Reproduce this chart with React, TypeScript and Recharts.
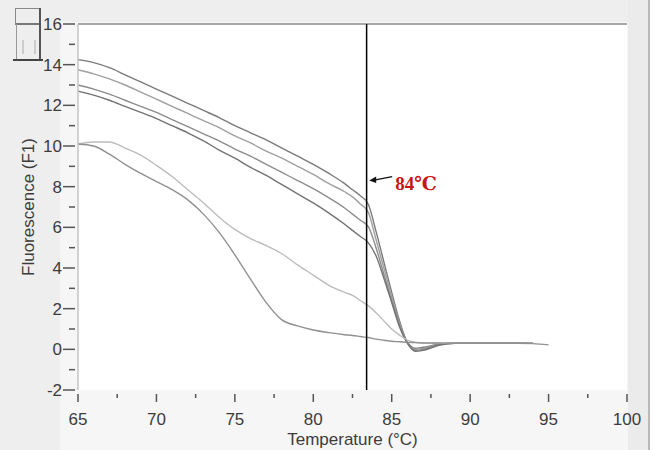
import { LineChart, Line, XAxis, YAxis, CartesianGrid, ReferenceLine, ReferenceDot, Label } from 'recharts';

const temps = [65, 66, 67, 68, 69, 70, 71, 72, 73, 74, 75, 76, 77, 78, 79, 80, 81, 82, 82.5, 83, 83.5, 84, 84.5, 85, 85.5, 86, 86.5, 87, 88, 89, 90, 91, 92, 93, 94, 95];

const curveA = [14.25, 14.1, 13.85, 13.5, 13.15, 12.8, 12.45, 12.1, 11.75, 11.4, 11.0, 10.65, 10.3, 9.9, 9.5, 9.1, 8.65, 8.15, 7.85, 7.55, 7.15, 5.8, 4.3, 2.8, 1.4, 0.35, 0.05, 0.1, 0.25, 0.3, 0.3, 0.3, 0.3, 0.3, 0.3, null];
const curveB = [13.75, 13.55, 13.3, 13.0, 12.65, 12.3, 11.95, 11.6, 11.25, 10.9, 10.5, 10.15, 9.75, 9.4, 9.0, 8.6, 8.15, 7.75, 7.5, 7.15, 6.75, 5.4, 4.0, 2.6, 1.3, 0.3, 0.0, 0.05, 0.25, 0.3, 0.3, 0.3, 0.3, 0.3, 0.3, null];
const curveC = [13.0, 12.8, 12.55, 12.25, 11.95, 11.65, 11.3, 10.95, 10.6, 10.25, 9.85, 9.5, 9.1, 8.7, 8.3, 7.9, 7.45, 6.95, 6.65, 6.35, 6.05, 5.0, 3.7, 2.4, 1.2, 0.3, -0.05, 0.0, 0.25, 0.3, 0.3, 0.3, 0.3, 0.3, 0.3, null];
const curveD = [12.7, 12.5, 12.25, 11.95, 11.65, 11.35, 11.0, 10.65, 10.25, 9.8, 9.4, 8.95, 8.55, 8.1, 7.65, 7.2, 6.7, 6.15, 5.85, 5.55, 5.25, 4.6, 3.5, 2.3, 1.1, 0.3, -0.1, -0.05, 0.2, 0.3, 0.3, 0.3, 0.3, 0.3, 0.3, null];
const curveE = [10.1, 10.2, 10.2, 9.9, 9.55, 9.05, 8.5, 7.85, 7.2, 6.5, 5.9, 5.45, 5.1, 4.7, 4.15, 3.65, 3.15, 2.8, 2.65, 2.4, 2.15, 1.8, 1.4, 1.0, 0.7, 0.45, 0.35, 0.3, 0.3, 0.3, 0.3, 0.3, 0.3, 0.3, 0.3, null];
const curveF = [10.1, 10.0, 9.6, 9.1, 8.65, 8.25, 7.85, 7.35, 6.65, 5.75, 4.65, 3.45, 2.3, 1.45, 1.15, 0.95, 0.82, 0.72, 0.68, 0.63, 0.58, 0.5, 0.45, 0.4, 0.37, 0.34, 0.33, 0.32, 0.31, 0.3, 0.3, 0.3, 0.3, 0.3, 0.28, 0.22];

const xTicks = [65, 67.5, 70, 72.5, 75, 77.5, 80, 82.5, 85, 87.5, 90, 92.5, 95, 97.5, 100];
const yTicks = [-2, -1, 0, 1, 2, 3, 4, 5, 6, 7, 8, 9, 10, 11, 12, 13, 14, 15, 16];

const meltTemp = 83.4;
const meltLabel = '84℃';

const series = [
  { key: 'a', values: curveA, color: '#7a7a7a' },
  { key: 'b', values: curveB, color: '#a0a0a0' },
  { key: 'c', values: curveC, color: '#8c8c8c' },
  { key: 'd', values: curveD, color: '#727272' },
  { key: 'e', values: curveE, color: '#bcbcbc' },
  { key: 'f', values: curveF, color: '#909090' },
];

const data = temps.map((t, i) => {
  const row: Record<string, number | null> = { t };
  series.forEach((s) => { row[s.key] = s.values[i]; });
  return row;
});

const font = '"Liberation Sans", Arial, sans-serif';
const textColor = '#3c3c3c';

const XTick = ({ x, y, payload }: any) => {
  const major = payload.value % 5 === 0;
  return (
    <g>
      <line x1={x} x2={x} y1={y + 4} y2={y + (major ? 12 : 8)} stroke="#555" strokeWidth={1.5} />
      {major && (
        <text x={x} y={y + 35} textAnchor="middle" fontSize={17} fontFamily={font} fill={textColor}>
          {payload.value}
        </text>
      )}
    </g>
  );
};

const YTick = ({ x, y, payload }: any) => {
  const major = payload.value % 2 === 0;
  return (
    <g>
      <line x1={x - (major ? 15 : 9)} x2={x - 3} y1={y} y2={y} stroke="#555" strokeWidth={1.5} />
      {major && (
        <text x={x - 16} y={y + 6} textAnchor="end" fontSize={17} fontFamily={font} fill={textColor}>
          {payload.value}
        </text>
      )}
    </g>
  );
};

const Arrow = ({ cx, cy }: any) => (
  <g>
    <line x1={cx + 24} y1={cy - 4} x2={cx + 6} y2={cy - 0.5} stroke="#111" strokeWidth={1.3} />
    <polygon points={`${cx + 1},${cy} ${cx + 8},${cy - 4} ${cx + 8},${cy + 2.5}`} fill="#111" />
    <text x={cx + 27} y={cy + 9} fontSize={19} fontWeight="bold" fontFamily='"Liberation Serif", "DejaVu Serif", serif' fill="#c81414">
      {meltLabel}
    </text>
  </g>
);

export default function App() {
  return (
    <div style={{ position: 'absolute', left: 0, top: 0, width: 655, height: 450, background: '#f6f6f6', overflow: 'hidden' }}>
      <div style={{ position: 'absolute', left: 0, top: 0, width: 655, height: 22, background: '#eeeeee' }} />
      <div style={{ position: 'absolute', left: 0, top: 0, width: 60, height: 450, background: '#eeeeee' }} />
      <div style={{ position: 'absolute', left: 628, top: 0, width: 20, height: 450, background: '#ebebeb', borderRight: '2px solid #b8b8b8' }} />
      <div style={{ position: 'absolute', left: 650, top: 0, width: 5, height: 450, background: '#ffffff' }} />
      <div style={{ position: 'absolute', left: 15, top: 8, width: 24, height: 14, border: '1px solid #888', borderBottom: '2px solid #777' }} />
      <div style={{ position: 'absolute', left: 16, top: 24, width: 0, height: 35, borderLeft: '1px solid #999' }} />
      <div style={{ position: 'absolute', left: 39, top: 8, width: 0, height: 52, borderLeft: '2px solid #555' }} />
      <div style={{ position: 'absolute', left: 22, top: 40, width: 10, height: 14, borderLeft: '2px solid #ccc', borderRight: '2px solid #ccc' }} />
      <div style={{ position: 'absolute', left: 13, top: 59, width: 30, height: 2, background: '#444' }} />
      <div style={{ position: 'absolute', left: 0, top: 0 }}>
        <LineChart width={655} height={450} data={data} margin={{ top: 24, right: 28, bottom: 0, left: 0 }}>
          <CartesianGrid fill="#ffffff" stroke="none" horizontal={false} vertical={false} />
          <XAxis
            dataKey="t"
            type="number"
            domain={[65, 100]}
            ticks={xTicks}
            interval={0}
            tickSize={0}
            tickMargin={0}
            tickLine={false}
            axisLine={false}
            height={60}
            tick={<XTick />}
          >
            <Label
              content={({ viewBox }: any) => (
                <text x={viewBox.x + viewBox.width / 2} y={viewBox.y + 55} textAnchor="middle" fontSize={17} fontFamily={font} fill={textColor}>
                  Temperature (°C)
                </text>
              )}
            />
          </XAxis>
          <YAxis
            type="number"
            domain={[-2, 16]}
            ticks={yTicks}
            interval={0}
            width={78}
            tickSize={0}
            tickMargin={0}
            tickLine={false}
            axisLine={{ stroke: '#c4c4c4', strokeWidth: 1.5 }}
            tick={<YTick />}
          >
            <Label
              content={({ viewBox }: any) => {
                const cx = viewBox.x + 28;
                const cy = viewBox.y + viewBox.height / 2;
                return (
                  <text x={cx} y={cy} transform={`rotate(-90, ${cx}, ${cy})`} textAnchor="middle" dominantBaseline="central" fontSize={17} fontFamily={font} fill={textColor}>
                    Fluorescence (F1)
                  </text>
                );
              }}
            />
          </YAxis>
          <ReferenceLine y={16} stroke="#a8a8a8" strokeWidth={2} />
          {series.map((s) => (
            <Line
              key={s.key}
              dataKey={s.key}
              stroke={s.color}
              strokeWidth={1.4}
              dot={false}
              type="monotone"
              connectNulls={false}
              isAnimationActive={false}
            />
          ))}
          <ReferenceLine x={meltTemp} stroke="#000" strokeWidth={1.5} />
          <ReferenceDot x={83.5} y={8.3} r={0} shape={<Arrow />} />
        </LineChart>
      </div>
    </div>
  );
}
